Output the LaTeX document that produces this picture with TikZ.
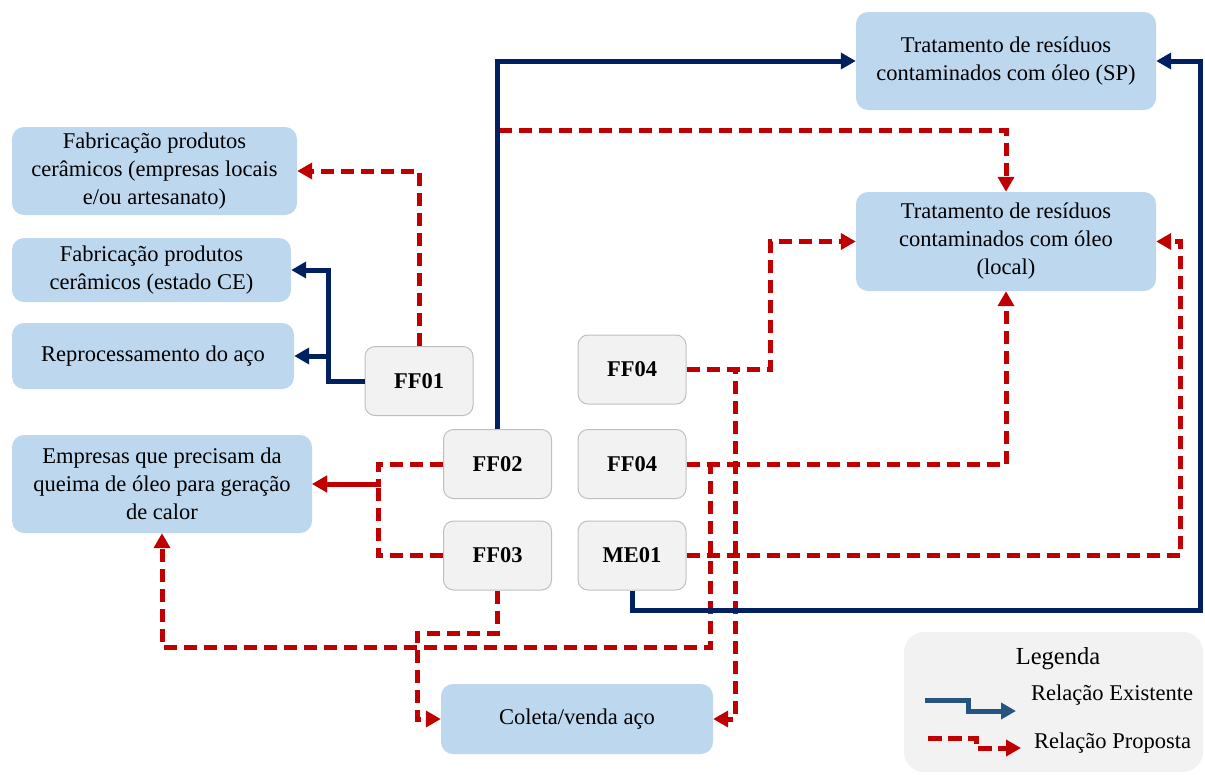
\documentclass[tikz,border=0pt]{standalone}
\usepackage{fontspec}
\setmainfont{Liberation Serif}
\usetikzlibrary{arrows.meta}
\definecolor{boxblue}{RGB}{189,215,238}
\definecolor{boxgray}{RGB}{242,242,242}
\definecolor{graybord}{RGB}{191,191,191}
\definecolor{darkblue}{RGB}{0,32,96}
\definecolor{propred}{RGB}{192,0,0}
\definecolor{legblue}{RGB}{38,84,128}
\tikzset{
  destbox/.style={fill=boxblue, draw=none, rounded corners=12pt, inner sep=0pt, align=center, font=\fontsize{22.5}{28}\selectfont},
  srcbox/.style={fill=boxgray, draw=graybord, line width=1pt, rounded corners=10pt, minimum width=108pt, minimum height=69pt, inner sep=0pt, font=\fontsize{22.5}{28}\selectfont\bfseries},
  tip/.style={-{Triangle[length=15pt,width=16pt]}},
  exist/.style={draw=darkblue, line width=5pt, tip},
  prop/.style={draw=propred, line width=5pt, dash pattern=on 13pt off 7pt, tip},
  legexist/.style={draw=legblue, line width=5pt, tip},
  legbox/.style={fill=boxgray, draw=none, rounded corners=20pt, minimum width=299pt, minimum height=140pt},
  legtext/.style={font=\fontsize{22.5}{28}\selectfont, inner sep=0pt},
}
\begin{document}
\begin{tikzpicture}[x=1pt,y=-1pt]
\useasboundingbox (0,0) rectangle (1205,774);
% destination boxes
\node[destbox, minimum width=300pt, minimum height=98pt] (sp) at (1006,61) {Tratamento de resíduos\\contaminados com óleo (SP)};
\node[destbox, minimum width=300pt, minimum height=99pt] (local) at (1006,241.5) {Tratamento de resíduos\\contaminados com óleo\\(local)};
\node[destbox, minimum width=285pt, minimum height=88pt] (ceram1) at (154.5,171) {Fabricação produtos\\cerâmicos (empresas locais\\e/ou artesanato)};
\node[destbox, minimum width=279pt, minimum height=64pt] (ceram2) at (151.5,270) {Fabricação produtos\\cerâmicos (estado CE)};
\node[destbox, minimum width=282pt, minimum height=66pt] (reproc) at (153,356) {Reprocessamento do aço};
\node[destbox, minimum width=300pt, minimum height=98pt] (empresas) at (162,484) {Empresas que precisam da\\queima de óleo para geração\\de calor};
\node[destbox, minimum width=272pt, minimum height=70pt] (coleta) at (577,719) {Coleta/venda aço};
% source boxes
\node[srcbox] (ff01) at (419,381) {FF01};
\node[srcbox] (ff02) at (497.5,464) {FF02};
\node[srcbox] (ff03) at (497.5,555.5) {FF03};
\node[srcbox] (ff04a) at (632,369.5) {FF04};
\node[srcbox] (ff04b) at (632,464) {FF04};
\node[srcbox] (me01) at (632,555.5) {ME01};
% proposed relations
\draw[prop] (ff01.north) |- (ceram1.east);
\draw[prop] (ff02.north) -- (497.5,130) -| (local.north);
\draw[prop] (ff02.west) -- (378,464) |- (empresas.east);
\draw[prop] (ff03.west) -- (378,555.5) |- (empresas.east);
\draw[prop] (ff03.south) -- (497.5,633) -| (417,719) -- (coleta.west);
\draw[prop] (ff04b.east) -- (710,464) -- (710,647) -| (empresas.south);
\draw[prop] (ff04b.east) -| (local.south);
\draw[prop] (ff04a.east) -- (770,369.5) |- (local.west);
\draw[prop] (ff04a.east) -- (735,369.5) |- (coleta.east);
\draw[prop] (me01.east) -- (1180,555.5) |- (local.east);
% existing relations
\draw[exist] (ff01.west) -- (328,381) |- (reproc.east);
\draw[exist] (ff01.west) -- (328,381) |- (ceram2.east);
\draw[exist] (ff02.north) |- (sp.west);
\draw[exist] (me01.south) -- (632,610) -| (1200,61) -- (sp.east);
% legend
\node[legbox] (leg) at (1053.5,702) {};
\node[font=\fontsize{24.5}{28}\selectfont, inner sep=0pt] (legtitle) at (1058,659) {Legenda};
\coordinate (lea) at (925,700);
\coordinate (leb) at (1016,711);
\draw[legexist] (lea) -- (968,700) -- (968,711) -- (leb);
\node[legtext, anchor=west] (legex) at (1031,695) {Relação Existente};
\coordinate (lpa) at (928,738);
\coordinate (lpb) at (1021,748);
\draw[prop, dash pattern=on 14pt off 6pt] (lpa) -- (976,738) -- (976,748) -- (lpb);
\node[legtext, anchor=west] (legpr) at (1034,743) {Relação Proposta};
\end{tikzpicture}
\end{document}
